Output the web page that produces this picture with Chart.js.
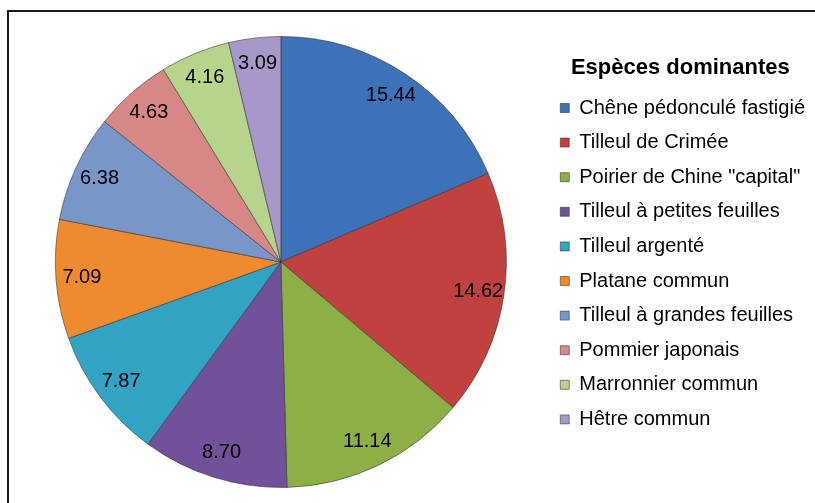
<!DOCTYPE html>
<html>
<head>
<meta charset="utf-8">
<script src="https://cdn.jsdelivr.net/npm/chart.js@4.4.0/dist/chart.umd.min.js"></script>
<style>
    html, body { margin: 0; padding: 0; background: #fff; overflow: hidden; }
    #frame { position: absolute; left: 7px; top: 10px; width: 900px; height: 600px; border: 2px solid #1a1a1a; }
    #wrap { position: absolute; left: 0; top: 0; width: 815px; height: 503px; }
</style>
</head>
<body>
<div id="frame"></div>
<div id="wrap"><canvas id="pieChart"></canvas></div>
<script>
const especes = [
    "Chêne pédonculé fastigié",
    "Tilleul de Crimée",
    "Poirier de Chine \"capital\"",
    "Tilleul à petites feuilles",
    "Tilleul argenté",
    "Platane commun",
    "Tilleul à grandes feuilles",
    "Pommier japonais",
    "Marronnier commun",
    "Hêtre commun"
];
const valeurs = [15.44, 14.62, 11.14, 8.70, 7.87, 7.09, 6.38, 4.63, 4.16, 3.09];
const couleurs = ["#3d71b8", "#c0413d", "#8db046", "#70519a", "#32a3c3", "#f08a2e", "#7896c8", "#d78886", "#b6d48c", "#a898ca"];
const titreLegende = "Espèces dominantes";

// value labels drawn near the outer edge of each slice
const valueLabels = {
    id: "valueLabels",
    afterDatasetsDraw(chart) {
        let ctx = chart.ctx;
        let meta = chart.getDatasetMeta(0);
        ctx.save();
        ctx.font = "20px 'Liberation Sans', Arial, sans-serif";
        ctx.fillStyle = "#000";
        ctx.textAlign = "center";
        ctx.textBaseline = "middle";
        meta.data.forEach((arc, i) => {
            let a = (arc.startAngle + arc.endAngle) / 2;
            let r = arc.outerRadius * 0.885;
            ctx.fillText(valeurs[i].toFixed(2), arc.x + Math.cos(a) * r, arc.y + Math.sin(a) * r);
        });
        ctx.restore();
    }
};

let pieChart = new Chart(document.getElementById("pieChart"), {
    type: "pie",
    data: {
        labels: especes,
        datasets: [{
            data: valeurs,
            backgroundColor: couleurs,
            borderColor: "rgba(50,50,50,0.55)",
            borderWidth: 1,
            hoverOffset: 0
        }]
    },
    options: {
        responsive: true,
        maintainAspectRatio: false,
        animation: false,
        layout: { padding: { left: 16, top: 36, bottom: 15, right: 0 } },
        plugins: {
            tooltip: { enabled: false },
            legend: {
                position: "right",
                align: "start",
                title: {
                    display: true,
                    text: titreLegende,
                    color: "#000",
                    font: { family: "'Liberation Sans', Arial, sans-serif", size: 22, weight: "bold" },
                    padding: { top: 21, bottom: 0 }
                },
                labels: {
                    color: "#000",
                    boxWidth: 9,
                    boxHeight: 9,
                    padding: 14.6,
                    font: { family: "'Liberation Sans', Arial, sans-serif", size: 20 }
                }
            }
        }
    },
    plugins: [valueLabels]
});
</script>
</body>
</html>
